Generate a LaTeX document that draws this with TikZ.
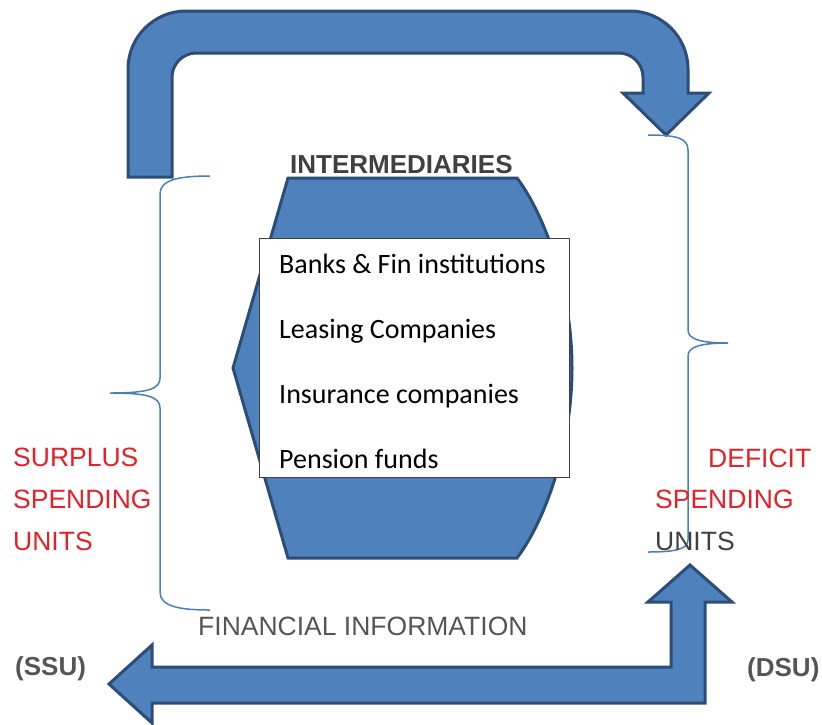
\documentclass[tikz,border=0pt]{standalone}
\usepackage{fontspec}
\setmainfont{Liberation Sans}
\newfontfamily\boxfont{Carlito}
\usetikzlibrary{positioning}
\definecolor{flowblue}{RGB}{79,129,189}
\definecolor{flowedge}{RGB}{44,77,117}
\definecolor{unitred}{RGB}{230,32,40}
\definecolor{darkgray}{RGB}{64,64,64}
\definecolor{midgray}{RGB}{85,85,85}
\definecolor{bracecol}{RGB}{74,126,187}

\begin{document}
\begin{tikzpicture}[
        x=1pt, y=-1pt,
        flowarrow/.style={fill=flowblue, draw=flowedge, line width=3pt},
        bracket/.style={draw=bracecol, line width=1.5pt},
        word/.style={anchor=base west, inner sep=0pt, font=\fontsize{26.5}{30}\selectfont},
        boldword/.style={word, font=\fontsize{26}{30}\selectfont\bfseries},
        listitem/.style={anchor=base west, inner sep=0pt, font=\boxfont\fontsize{28}{32}\selectfont}
    ]
    \useasboundingbox (0,0) rectangle (822,724);
    \draw[flowarrow] (128,177) -- (128,69) .. controls (128,37) and (154,11) .. (186,11)
        -- (630,11) .. controls (662,11) and (688,37) .. (688,69)
        -- (688,93) -- (709,93) -- (666,135) -- (623,93) -- (643,93)
        -- (643,77) .. controls (643,64) and (632,53) .. (619,53)
        -- (196,53) .. controls (183,53) and (172,64) .. (172,77)
        -- (172,177) -- cycle;
    \draw[flowarrow] (109,684) -- (152,645) -- (152,667) -- (671,667) -- (671,602)
        -- (648,602) -- (690,565) -- (732,602) -- (705,602) -- (705,703)
        -- (152,703) -- (152,723) -- cycle;
    \draw[flowarrow] (288,178) -- (517,178) .. controls (545,215) and (572,290) .. (572,368)
        .. controls (572,446) and (545,521) .. (517,558) -- (288,558) -- (233,368) -- cycle;
    \node[draw=darkgray, fill=white, line width=0.8pt, minimum width=310pt, minimum height=239pt] (list) at (414,357.5) {};
    \node[listitem] (banks) at (279,273) {Banks \& Fin institutions};
    \node[listitem] (leasing) at (279,338) {Leasing Companies};
    \node[listitem] (insurance) at (279,403) {Insurance companies};
    \node[listitem] (pension) at (279,468) {Pension funds};
    \node[boldword, text=darkgray] (inter) at (290,173) {INTERMEDIARIES};
    \draw[bracket] (210,176) .. controls (178,176) and (160,180) .. (160,194) -- (160,378)
        .. controls (160,389) and (148,393) .. (110,393)
        .. controls (148,393) and (160,397) .. (160,408) -- (160,592)
        .. controls (160,606) and (178,610) .. (210,610);
    \draw[bracket] (648,135) .. controls (676,135) and (688,138) .. (688,150) -- (688,330)
        .. controls (688,339) and (700,343) .. (728,343)
        .. controls (700,343) and (688,347) .. (688,356) -- (688,540)
        .. controls (688,549) and (676,552) .. (648,552);
    \node[word, text=unitred] (surplus) at (13,466) {SURPLUS};
    \node[word, text=unitred] (sspend) at (13,508) {SPENDING};
    \node[word, text=unitred] (sunits) at (13,550) {UNITS};
    \node[word, text=unitred] (deficit) at (708,467) {DEFICIT};
    \node[word, text=unitred] (dspend) at (655,508) {SPENDING};
    \node[word, text=darkgray] (dunits) at (655,550) {UNITS};
    \node[word, text=midgray] (info) at (198,635) {FINANCIAL INFORMATION};
    \node[boldword, text=midgray] (ssu) at (15,675) {(SSU)};
    \node[boldword, text=midgray] (dsu) at (747,676) {(DSU)};
\end{tikzpicture}
\end{document}
